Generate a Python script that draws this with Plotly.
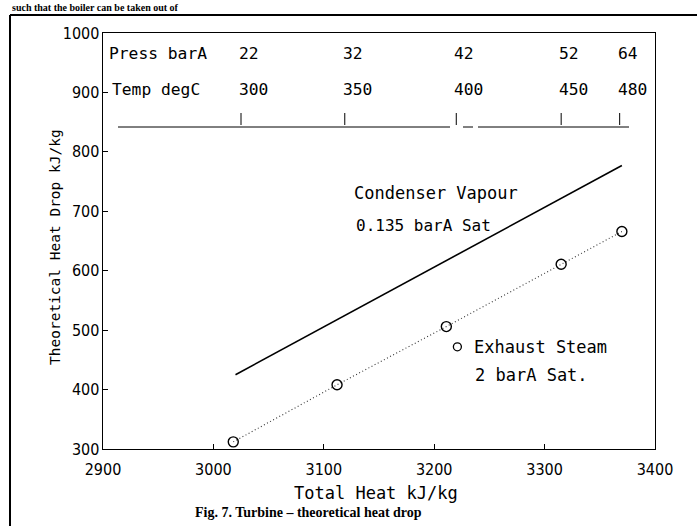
import plotly.graph_objects as go

# ---------------- data ----------------
steam_total_heat = [3018, 3112, 3211, 3315, 3370]     # kJ/kg
steam_heat_drop = [312, 408, 506, 611, 666]           # kJ/kg (exhaust 2 barA sat.)
cond_total_heat = [3020, 3370]
cond_heat_drop = [425, 777]                           # condenser vapour 0.135 barA sat
press_bara = [22, 32, 42, 52, 64]
temp_degc = [300, 350, 400, 450, 480]
cond_heat_at_marks = [3025, 3119, 3220, 3315, 3368]   # positions of the top scale marks
x_ticks = [2900, 3000, 3100, 3200, 3300, 3400]
y_ticks = [300, 400, 500, 600, 700, 800, 900, 1000]

# ---------------- layout geometry ----------------
W, H = 697, 526
L, R, T, B = 103, 655, 33, 449


def px(x):
    return (x - L) / (R - L)


def py(y):
    return (B - y) / (B - T)


PLOT_FONT = "DejaVu Sans Mono"
TICK_FONT = "Liberation Sans Narrow, DejaVu Sans Condensed, Liberation Sans"

fig = go.Figure()

fig.add_trace(go.Scatter(
    x=cond_total_heat, y=cond_heat_drop, mode="lines",
    line=dict(color="black", width=1.6), showlegend=False, hoverinfo="skip"))

fig.add_trace(go.Scatter(
    x=steam_total_heat, y=steam_heat_drop, mode="lines+markers",
    line=dict(color="#333333", width=1.1, dash="1px,2.5px"),
    marker=dict(symbol="circle-open", size=10, color="black", line=dict(width=1.4)),
    showlegend=False, hoverinfo="skip"))

# legend marker for exhaust steam
fig.add_trace(go.Scatter(
    x=[3221], y=[472], mode="markers",
    marker=dict(symbol="circle-open", size=8, color="black", line=dict(width=1.3)),
    showlegend=False, hoverinfo="skip"))

ann = []


def text(x, y, s, size=16, xanchor="left", font=PLOT_FONT, yanchor="middle", **kw):
    ann.append(dict(x=px(x), y=py(y), xref="paper", yref="paper", text=s,
                    showarrow=False, xanchor=xanchor, yanchor=yanchor,
                    font=dict(family=font, size=size, color="black"), **kw))


text(107, 53, "Press barA", 16.3)
text(110, 90, "Temp degC", 16.3)
for h, p, t in zip(cond_heat_at_marks, press_bara, temp_degc):
    ann.append(dict(x=h, y=py(53), xref="x", yref="paper", text=str(p), showarrow=False,
                    xanchor="left", yanchor="middle", xshift=-4,
                    font=dict(family=PLOT_FONT, size=16.3, color="black")))
    ann.append(dict(x=h, y=py(90), xref="x", yref="paper", text=str(t), showarrow=False,
                    xanchor="left", yanchor="middle", xshift=-4,
                    font=dict(family=PLOT_FONT, size=16.3, color="black")))

text(352, 193, "Condenser Vapour", 17)
text(354, 225, "0.135 barA Sat", 16)
text(472, 347, "Exhaust Steam", 17)
text(473, 375, "2 barA Sat.", 17)

text(376, 493, "Total Heat kJ/kg", 17, xanchor="center")
ann.append(dict(x=px(55), y=py(247), xref="paper", yref="paper",
                text="Theoretical Heat Drop kJ/kg", showarrow=False, textangle=-90,
                xanchor="center", yanchor="middle",
                font=dict(family=PLOT_FONT, size=14.5, color="black")))
text(308, 512, "<b>Fig. 7. Turbine – theoretical heat drop</b>", 14, xanchor="center",
     font="Liberation Serif")
text(10, 0, "<b>such that the boiler can be taken out of</b>", 10, yanchor="top",
     font="Liberation Serif")

shapes = []
# scale line with marks near top
for x0, x1 in [(px(118), px(450)), (px(463), px(473)), (px(478), px(629))]:
    shapes.append(dict(type="line", xref="paper", yref="paper", x0=x0, x1=x1,
                       y0=py(127), y1=py(127), line=dict(color="black", width=1)))
for h in cond_heat_at_marks:
    shapes.append(dict(type="line", xref="x", yref="paper", x0=h, x1=h,
                       y0=py(125), y1=py(113), line=dict(color="black", width=1)))
# outer page frame
shapes.append(dict(type="line", xref="paper", yref="paper", x0=px(10), x1=px(700),
                   y0=py(15), y1=py(15), line=dict(color="black", width=2)))
shapes.append(dict(type="line", xref="paper", yref="paper", x0=px(10), x1=px(10),
                   y0=py(15), y1=py(530), line=dict(color="black", width=2)))

axis_common = dict(showline=True, mirror=True, linecolor="black", linewidth=1.4,
                   ticks="inside", ticklen=5, tickcolor="black", tickwidth=1,
                   showgrid=False, zeroline=False,
                   tickfont=dict(family=TICK_FONT, size=16, color="black"))

fig.update_layout(
    width=W, height=H,
    margin=dict(l=L, r=W - R, t=T, b=H - B),
    paper_bgcolor="white", plot_bgcolor="white",
    xaxis=dict(range=[2900, 3400], tickvals=x_ticks, ticklabelstandoff=5, **axis_common),
    yaxis=dict(range=[300, 1000], tickvals=y_ticks, ticklabelstandoff=-1, **axis_common),
    annotations=ann, shapes=shapes,
)

fig.write_html("out.html", config={"displayModeBar": False, "staticPlot": True},
               post_script="document.body.style.margin='0';document.body.style.overflow='hidden';")
